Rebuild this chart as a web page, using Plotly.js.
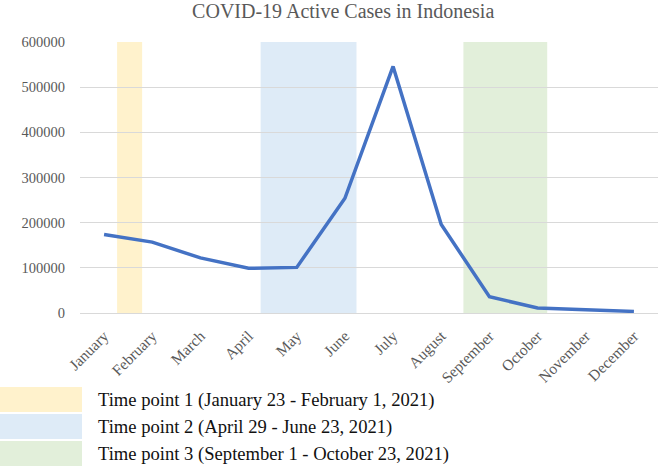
<!DOCTYPE html>
<html>
<head>
<meta charset="utf-8">
<script src="https://cdn.plot.ly/plotly-3.0.1.min.js"></script>
<style>
  html, body { margin: 0; padding: 0; background: #fff; }
  #chart { width: 660px; height: 470px; }
</style>
</head>
<body>
<div id="chart"></div>
<script>
// Monthly active COVID-19 cases, Indonesia 2021
const months = ["January", "February", "March", "April", "May", "June",
                "July", "August", "September", "October", "November", "December"];
const activeCases = [174000, 157000, 122000, 99000, 101000, 254000,
                     546000, 196000, 36000, 11000, 7000, 3500];

// Study time points, as positions along the month axis (0 = January)
const periodStart = [0.27, 3.25, 7.46];
const periodEnd = [0.79, 5.24, 9.2];
const periodColors = ["#FFF2CC", "#DEEBF7", "#E2EFDA"];
const periodLabels = [
  "Time point 1 (January 23 - February 1, 2021)",
  "Time point 2 (April 29 - June 23, 2021)",
  "Time point 3 (September 1 - October 23, 2021)"
];

const serif = "Liberation Serif, Times New Roman, serif";
const W = 660, H = 470;
const margin = { l: 80, r: 2, t: 42, b: 157 };
const plotW = W - margin.l - margin.r;
const plotH = H - margin.t - margin.b;
// pixel -> paper helpers for the key below the plot
const px = x => (x - margin.l) / plotW;
const py = y => (H - margin.b - y) / plotH;

const shapes = [];
const annotations = [];

periodStart.forEach((s, i) => {
  shapes.push({
    type: "rect", xref: "x", yref: "paper",
    x0: s, x1: periodEnd[i], y0: 0, y1: 1,
    fillcolor: periodColors[i], line: { width: 0 }, layer: "below"
  });
});

// key: colour swatch + label for each time point
const keyTop = 387, keyRow = 27, swatchH = 25;
periodLabels.forEach((label, i) => {
  const top = keyTop + i * keyRow;
  shapes.push({
    type: "rect", xref: "paper", yref: "paper",
    x0: px(0), x1: px(82), y0: py(top), y1: py(top + swatchH),
    fillcolor: periodColors[i], line: { width: 0 }
  });
  annotations.push({
    xref: "paper", yref: "paper",
    x: px(96), y: py(top + swatchH / 2),
    xanchor: "left", yanchor: "middle", showarrow: false,
    text: label, font: { family: serif, size: 18.6, color: "#111" }
  });
});

const trace = {
  x: months, y: activeCases, type: "scatter", mode: "lines",
  line: { color: "#4472C4", width: 3.5 },
  hoverinfo: "x+y"
};

const layout = {
  width: W, height: H,
  margin: margin,
  paper_bgcolor: "#fff", plot_bgcolor: "rgba(0,0,0,0)",
  showlegend: false,
  title: {
    text: "COVID-19 Active Cases in Indonesia",
    font: { family: serif, size: 20, color: "#595959" },
    x: 0.52, xanchor: "center", y: 0.976, yanchor: "middle"
  },
  xaxis: {
    type: "category", range: [-0.5, 11.5],
    tickangle: -45, showgrid: false, zeroline: false, showline: false,
    ticks: "", ticklabelstandoff: 10,
    tickfont: { family: serif, size: 15.5, color: "#595959" }
  },
  yaxis: {
    range: [0, 600000], dtick: 100000, tickformat: "d",
    gridcolor: "#D9D9D9", gridwidth: 1, zeroline: true, zerolinecolor: "#D9D9D9",
    showline: false, ticks: "", ticklabelstandoff: 14,
    tickfont: { family: serif, size: 14.5, color: "#595959" }
  },
  shapes: shapes,
  annotations: annotations
};

Plotly.newPlot("chart", [trace], layout, { displayModeBar: false, staticPlot: true });
</script>
</body>
</html>
